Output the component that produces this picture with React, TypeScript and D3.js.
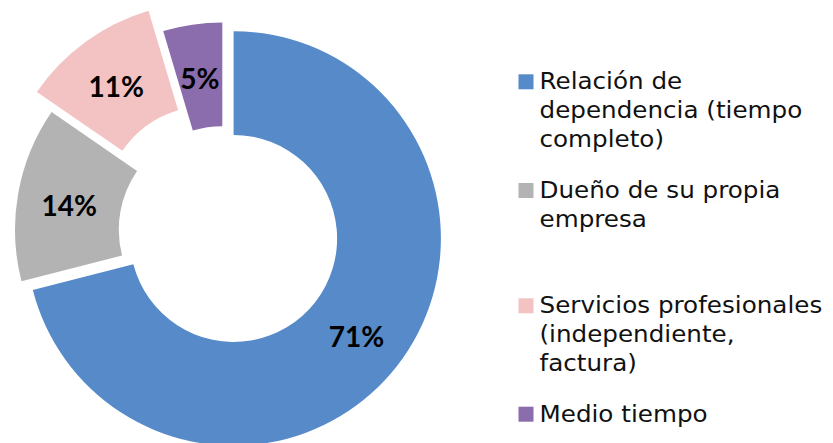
import React from "react";
import * as d3 from "d3";

const categories = [
  "Relación de dependencia (tiempo completo)",
  "Dueño de su propia empresa",
  "Servicios profesionales (independiente, factura)",
  "Medio tiempo",
];
const values = [71.0, 13.6, 10.8, 4.6];
const legendLines = [
  ["Relación de", "dependencia (tiempo", "completo)"],
  ["Dueño de su propia", "empresa"],
  ["Servicios profesionales", "(independiente,", "factura)"],
  ["Medio tiempo"],
];
const colors = ["#568AC9", "#B3B3B3", "#F3C3C3", "#8B6CAC"];
const explode = [14.3, 0, 25, 0];
const legendBaselines = [89.3, 198, 313.3, 421.7];

const W = 833;
const H = 443;
const CX = 222.3;
const CY = 229.7;
const R = 207.3;
const r0 = 103.5;
const LINE_H = 28.7;
const TEXT_X = 539.5;
const STRETCH = 1.095;

export default function App() {
  const pie = d3
    .pie<number>()
    .sort(null)
    .value((d) => d)
    .startAngle(0)
    .endAngle(2 * Math.PI);
  const arcs = pie(values);
  const arc = d3.arc<d3.PieArcDatum<number>>().innerRadius(r0).outerRadius(R);

  return (
    <svg
      width={W}
      height={H}
      style={{ position: "absolute", left: 0, top: 0, background: "#fff" }}
    >
      <g transform={`translate(${CX},${CY})`}>
        {arcs.map((a, i) => {
          const mid = (a.startAngle + a.endAngle) / 2;
          const dx = explode[i] * Math.sin(mid);
          const dy = -explode[i] * Math.cos(mid);
          const [lx, ly] = arc.centroid(a);
          return (
            <g key={categories[i]} transform={`translate(${dx},${dy})`}>
              <path d={arc(a) || ""} fill={colors[i]} />
              <text
                x={lx}
                y={ly + 3}
                textAnchor="middle"
                dy="0.36em"
                fontFamily="Lato, sans-serif"
                fontWeight={700}
                fontSize={28}
                fill="#000"
              >
                {Math.round(values[i])}%
              </text>
            </g>
          );
        })}
      </g>
      <g>
        {legendLines.map((lines, i) => (
          <g key={categories[i]}>
            <rect
              x={518.5}
              y={legendBaselines[i] - 15}
              width={15}
              height={15}
              fill={colors[i]}
            />
            <g transform={`translate(${TEXT_X},0) scale(${STRETCH},1)`}>
              <text
                fontFamily="'DejaVu Sans', sans-serif"
                fontSize={22.5}
                fill="#111"
              >
                {lines.map((ln, j) => (
                  <tspan key={j} x={0} y={legendBaselines[i] + j * LINE_H}>
                    {ln}
                  </tspan>
                ))}
              </text>
            </g>
          </g>
        ))}
      </g>
    </svg>
  );
}
